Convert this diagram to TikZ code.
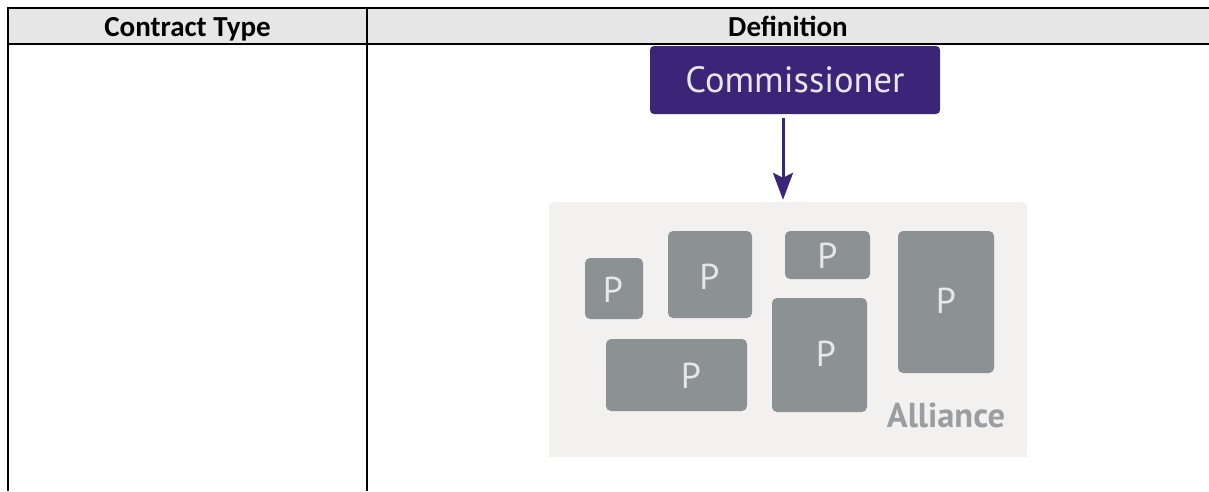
\documentclass[tikz,border=0pt]{standalone}
\usepackage{fontspec}
\setmainfont{Carlito}
\newfontfamily\dgfont{PT Sans}
\usetikzlibrary{arrows.meta}
\definecolor{hdrgray}{HTML}{E7E6E6}
\definecolor{commpurple}{HTML}{3C2479}
\definecolor{panelgray}{HTML}{F2F1F0}
\definecolor{pgray}{HTML}{8C9194}
\definecolor{ptextc}{HTML}{E6E7E8}
\definecolor{alltext}{HTML}{9A9EA1}
\begin{document}
\begin{tikzpicture}[x=1pt,y=-1pt,
  rule/.style={line width=2pt, black},
  hdr/.style={font=\fontsize{29}{31}\selectfont\bfseries, anchor=base, inner sep=0pt},
  commbox/.style={fill=commpurple, rounded corners=4pt, minimum width=290pt, minimum height=68pt, inner sep=0pt, text=ptextc, font=\dgfont\fontsize{36.5}{40}\selectfont},
  panelbox/.style={fill=panelgray, rounded corners=6pt, minimum width=478pt, minimum height=255pt, inner sep=0pt},
  pbox/.style={fill=pgray, rounded corners=5pt, inner sep=0pt},
  pletter/.style={text=ptextc, inner sep=0pt, font=\dgfont\fontsize{36}{40}\selectfont},
  alliancetext/.style={text=alltext, anchor=base, inner sep=0pt, font=\dgfont\bfseries\fontsize{34.5}{38}\selectfont},
  flowarrow/.style={draw=commpurple, line width=3pt, -{Stealth[length=27pt,width=20pt,inset=5pt]}}
]
\useasboundingbox (0,0) rectangle (1209,491);
% table header
\fill[hdrgray] (8,8) rectangle (1209,44);
\draw[rule] (7,8) -- (1209,8);
\draw[rule] (7,44) -- (1209,44);
\draw[rule] (8,7) -- (8,491);
\draw[rule] (367,7) -- (367,491);
\node[hdr] (h1) at (187.5,36) {Contract Type};
\node[hdr] (h2) at (788,36) {Definition};
% diagram
\node[panelbox] (panel) at (788,329.5) {};
\fill[panelgray] (549,420) rectangle (1027,457);
\node[commbox] (comm) at (795,80) {Commissioner};
\coordinate (arrx) at (783,0);
\draw[flowarrow, shorten <=4pt, shorten >=2pt] (comm.south -| arrx) -- (panel.north -| arrx);
% partner boxes
\node[pbox, minimum width=58pt, minimum height=61pt] (b1) at (614,288.5) {};
\node[pbox, minimum width=84pt, minimum height=87pt] (b2) at (710,274.5) {};
\node[pbox, minimum width=85pt, minimum height=48pt] (b3) at (827.5,255) {};
\node[pbox, minimum width=96pt, minimum height=142pt] (b4) at (946,302) {};
\node[pbox, minimum width=141pt, minimum height=72pt] (b5) at (676.5,375) {};
\node[pbox, minimum width=95pt, minimum height=114pt] (b6) at (819.5,355) {};
\node[pletter] (p1) at (613,290) {P};
\node[pletter] (p2) at (709.5,277) {P};
\node[pletter] (p3) at (827.5,256) {P};
\node[pletter] (p4) at (946,301) {P};
\node[pletter] (p5) at (691,376) {P};
\node[pletter] (p6) at (826,354) {P};
\node[alliancetext] (all) at (946,427) {Alliance};
\end{tikzpicture}
\end{document}
